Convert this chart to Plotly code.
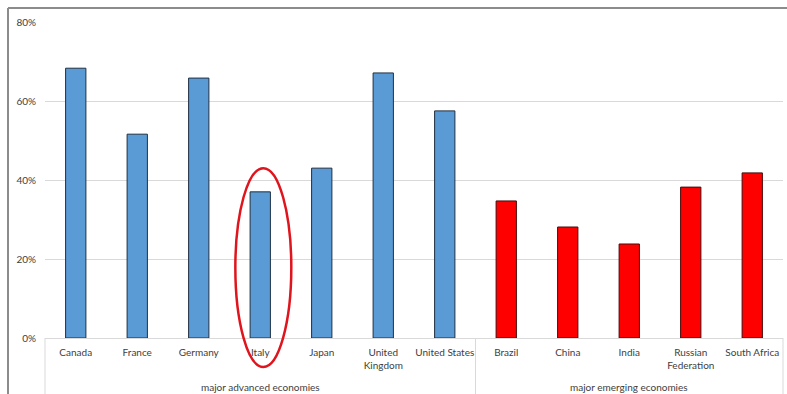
import plotly.graph_objects as go

groups = ["major advanced economies"] * 7 + ["major emerging economies"] * 5
countries = ["Canada", "France", "Germany", "Italy", "Japan", "United<br>Kingdom", "United States",
             "Brazil", "China", "India", "Russian<br>Federation", "South Africa"]
values = [0.683, 0.516, 0.658, 0.370, 0.430, 0.671, 0.575,
          0.347, 0.281, 0.238, 0.382, 0.418]
bar_colors = ["#5b9bd5"] * 7 + ["#ff0000"] * 5
line_colors = ["#1e2f42"] * 7 + ["#4a0a0a"] * 5
y_ticks = [0, 0.2, 0.4, 0.6, 0.8]
highlight = "Italy"

W, H = 787, 394
L, R, T, B = 45, 4, 22, 56
pw, ph = W - L - R, H - T - B

fig = go.Figure()
fig.add_trace(go.Bar(
    x=countries, y=values,
    marker=dict(color=bar_colors, line=dict(color=line_colors, width=1)),
    width=0.33, showlegend=False, hoverinfo="skip"))

font = dict(family="Lato, 'Liberation Sans', sans-serif", size=10, color="#404040")
grid = "#d9d9d9"

fig.update_layout(
    width=W, height=H, margin=dict(l=L, r=R, t=T, b=B, autoexpand=False),
    paper_bgcolor="white", plot_bgcolor="white", font=font,
    xaxis=dict(type="category", showline=True, linecolor=grid, linewidth=1,
               ticks="", tickfont=font, showgrid=False, tickangle=0, automargin=False,
               ticklabelstandoff=5),
    yaxis=dict(range=[0, 0.8], tickvals=y_ticks, tickformat=".0%", showgrid=True,
               gridcolor=grid, gridwidth=1, zeroline=False, showline=False,
               ticklabelstandoff=8, tickfont=font, automargin=False),
)

n = len(countries)
# group labels and group dividers
bounds = [0]
for i in range(1, n):
    if groups[i] != groups[i - 1]:
        bounds.append(i)
bounds.append(n)
group_label_y = -49 / ph  # 49 px below the axis line
for a, b in zip(bounds[:-1], bounds[1:]):
    fig.add_annotation(xref="x domain", yref="paper", x=(a + b) / 2 / n, y=group_label_y,
                       text=groups[a], showarrow=False, xanchor="center", yanchor="middle",
                       font=font)
for bnd in bounds:
    fig.add_shape(type="line", xref="x domain", yref="paper", x0=bnd / n, x1=bnd / n,
                  y0=0, y1=-0.3, line=dict(color=grid, width=1))

# chart frame (top and left edges visible)
fx = (8 - L) / pw
fy = 1 + (T - 8) / ph
fig.add_shape(type="line", xref="paper", yref="paper", x0=fx, x1=fx, y0=fy, y1=-0.3,
              line=dict(color="#8c8c8c", width=2))
fig.add_shape(type="line", xref="paper", yref="paper", x0=fx, x1=1.1, y0=fy, y1=fy,
              line=dict(color="#8c8c8c", width=2))

# red ellipse around Italy
idx = countries.index(highlight)
cx = (idx + 0.55) / n
hw = 0.455 / n
v = values[idx]
fig.add_shape(type="circle", xref="x domain", yref="y domain",
              x0=cx - hw, x1=cx + hw,
              y0=-0.092, y1=(v + 0.06) / 0.8,
              line=dict(color="#e0141c", width=2.5), fillcolor="rgba(0,0,0,0)")

fig.write_html("out.html")
